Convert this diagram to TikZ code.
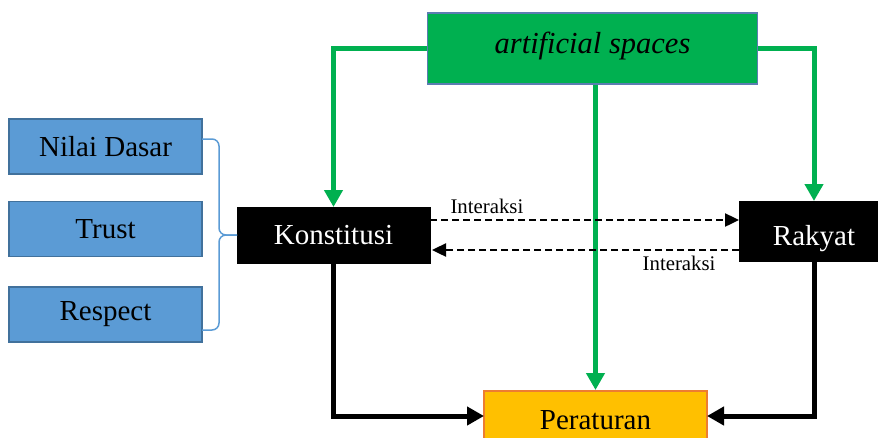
\documentclass[tikz,border=0pt]{standalone}
\usepackage{fontspec}
\setmainfont{Liberation Serif}
\usetikzlibrary{arrows.meta,calc}
\definecolor{gfill}{HTML}{00B050}
\definecolor{gborder}{HTML}{5B7DB1}
\definecolor{bfill}{HTML}{5B9BD5}
\definecolor{bborder}{HTML}{41719C}
\definecolor{ofill}{HTML}{FFC000}
\definecolor{oborder}{HTML}{ED7D31}
\tikzset{
  bigtext/.style={font=\fontsize{29}{32}\selectfont},
  smalltext/.style={font=\fontsize{20.8}{23}\selectfont},
  bluebox/.style={draw=bborder, fill=bfill, line width=1.8pt, minimum width=193pt, minimum height=55pt, inner sep=0pt, bigtext},
  blackbox/.style={draw=black, fill=black, text=white, line width=0pt, minimum height=56pt, inner sep=0pt, bigtext},
  greenbox/.style={draw=gborder, fill=gfill, line width=1.5pt, minimum width=330pt, minimum height=71pt, inner sep=0pt},
  orangebox/.style={draw=oborder, fill=ofill, line width=2pt, minimum width=223pt, minimum height=52pt, inner sep=0pt},
  greenline/.style={draw=gfill, line width=5pt, -{Triangle[length=17pt,width=18pt]}},
  blackline/.style={draw=black, line width=5pt, -{Triangle[length=17pt,width=18pt]}},
  dasharrow/.style={draw=black, line width=2.4pt, dash pattern=on 7pt off 4pt, -{Triangle[length=14pt,width=13pt]}},
  bracestyle/.style={draw=bfill, line width=1.5pt, rounded corners=7pt},
}
\begin{document}
\begin{tikzpicture}[x=1pt,y=-1pt]
\useasboundingbox (0,0) rectangle (878,437);
\begin{scope}
\clip (0,0) rectangle (878,437);
% boxes
\node[greenbox] (art) at (592.5,48.5) {};
\node[font=\fontsize{30.5}{33}\selectfont\itshape] (artt) at (592.5,46) {artificial spaces};
\node[bluebox] (nd) at (105.5,146.5) {Nilai Dasar};
\node[bluebox] (tr) at (105.5,229) {Trust};
\node[bluebox] (rs) at (105.5,314.5) {Respect};
\node[blackbox, minimum width=193pt] (kon) at (333.5,235) {Konstitusi};
\node[blackbox, minimum width=150pt, minimum height=60pt] (rak) at (814,231) {};
\node[bigtext, text=white, anchor=base] (rakt) at (814,245) {Rakyat};
\node[orangebox, minimum height=70pt, anchor=north] (per) at (595.5,390) {};
\coordinate (pl) at (484,416);
\coordinate (pr) at (707,416);
\node[bigtext, anchor=base] (pert) at (595.5,429) {Peraturan};
% brace
\coordinate (b1) at (202,139);
\coordinate (b2) at (202,330);
\coordinate (bm) at (219,235);
\draw[bracestyle] (b1) -| (bm) -- (kon.west);
\draw[bracestyle] (b2) -| (bm) -- (kon.west);
% green arrows
\draw[greenline] (art.west) -| (kon.north);
\draw[greenline] (art.east) -| (rak.north);
\draw[greenline] (per.north |- art.south) -- (per.north);
% black arrows
\draw[blackline] (kon.south) |- (pl);
\draw[blackline] (rak.south) |- (pr);
% dashed interactions
\draw[dasharrow] (kon.east |- 0,220) -- (rak.west |- 0,220);
\draw[dasharrow] (rak.west |- 0,250) -- ([xshift=2pt]kon.east |- 0,250);
\node[smalltext, anchor=base west] (i1) at (447,213) {Interaksi};
\node[smalltext, anchor=base east] (i2) at (719,270) {Interaksi};
\end{scope}
\end{tikzpicture}
\end{document}
